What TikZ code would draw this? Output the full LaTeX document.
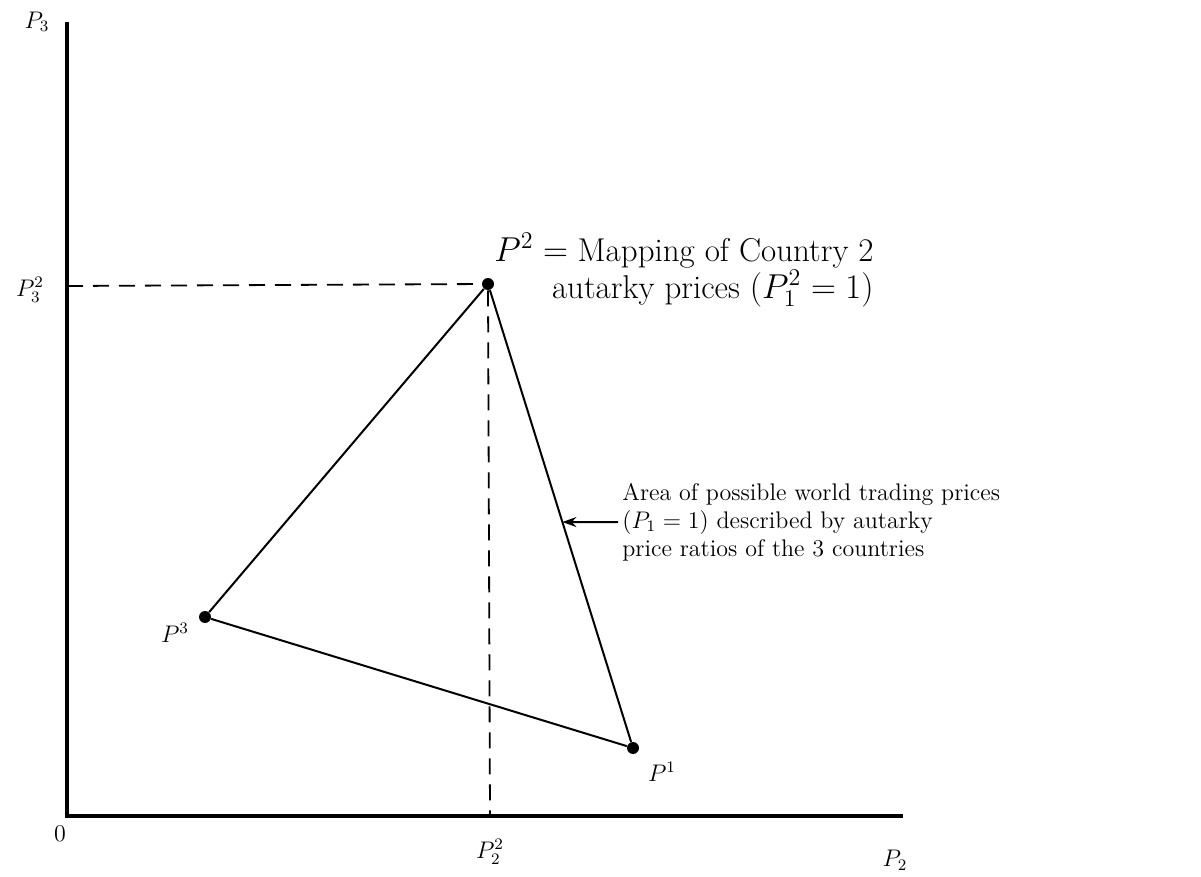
\documentclass[tikz,border=0pt]{standalone}
\usepackage{amsmath,amssymb}
\usetikzlibrary{arrows.meta, calc}

\begin{document}
\begin{tikzpicture}[x=0.5pt, y=-0.5pt, font=\large,
    axis/.style={line width=2pt},
    edge/.style={line width=1pt},
    guide/.style={line width=0.9pt, dash pattern=on 8pt off 5pt},
    pt/.style={circle, fill=black, inner sep=0pt, minimum size=6pt}]

  \useasboundingbox (0,0) rectangle (1201,877);

  % axes
  \coordinate (o) at (67,816);
  \coordinate (ytop) at (67,22);
  \coordinate (xend) at (903,816);
  \draw[axis] (ytop) -- (o) -- (xend);

  \node[pt] (p2) at (488,284) {};
  \node[pt] (p3) at (205,617) {};
  \node[pt] (p1) at (633,748) {};
  \draw[edge] (p2) -- (p1) -- (p3) -- (p2);

  % projections of P^2 on the axes
  \coordinate (p32) at (67,286);
  \coordinate (p22) at (490,816);
  \draw[guide] (p32) -- (p2.center);
  \draw[guide] (p2) -- (p22);

  \node (lp3axis) at (37,22) {$P_3$};
  \node (lzero) at (60,834) {0};
  \node (lp32) at (30,290) {$P_3^2$};
  \node (lp22) at (490,852) {$P_2^2$};
  \node (lp2axis) at (895,860) {$P_2$};
  \node (lp1) at (662,772) {$P^1$};
  \node (lp3) at (175,633) {$P^3$};

  \node[anchor=east, align=right, inner sep=0pt, font=\fontsize{16.5}{16}\selectfont] (mapping) at (874,270)
    {$P^2 = {}$Mapping of Country 2\\ autarky prices $(P_1^2 = 1)$};

  \coordinate (tip) at ($(p2)!0.513!(p1)$);
  \node[anchor=west, align=left, inner sep=0pt] (area) at (622,522)
    {Area of possible world trading prices\\ $(P_1 = 1)$ described by autarky\\ price ratios of the 3 countries};
  \draw[edge, -{Stealth[length=7pt, width=5pt]}] ([xshift=-2pt]area.west) -- (tip);
\end{tikzpicture}
\end{document}
